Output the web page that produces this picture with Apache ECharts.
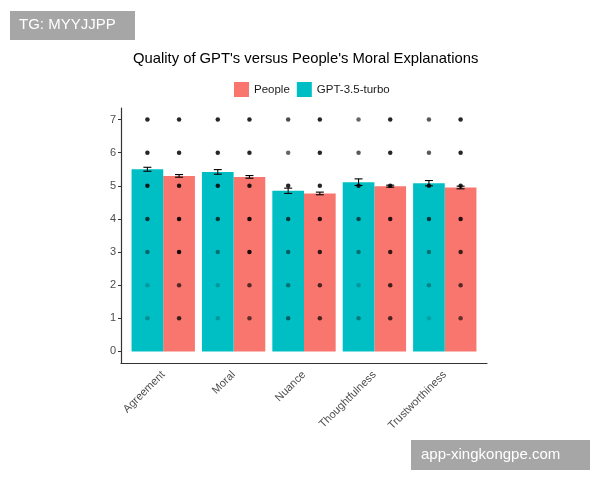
<!DOCTYPE html>
<html>
<head>
<meta charset="utf-8">
<script src="https://cdn.jsdelivr.net/npm/echarts@6/dist/echarts.min.js"></script>
<style>
  html, body { margin: 0; padding: 0; background: #fff; }
  #main { width: 600px; height: 480px; }
</style>
</head>
<body>
<div id="main"></div>
<script>
var categories = ['Agreement', 'Moral', 'Nuance', 'Thoughtfulness', 'Trustworthiness'];
var gptMean = [5.50, 5.42, 4.85, 5.11, 5.08];
var gptErr = [0.06, 0.07, 0.08, 0.10, 0.08];
var peopleMean = [5.30, 5.27, 4.77, 4.99, 4.95];
var peopleErr = [0.04, 0.04, 0.04, 0.03, 0.04];
var ratingLevels = [1, 2, 3, 4, 5, 6, 7];
// darkness of the rating dots (how many answers pile up there), levels 1..7
var gptDotAlpha = [
  [0.25, 0.2, 0.45, 0.7, 0.85, 0.85, 0.85],
  [0.2, 0.2, 0.4, 0.7, 0.85, 0.85, 0.85],
  [0.5, 0.4, 0.5, 0.7, 0.85, 0.6, 0.7],
  [0.35, 0.2, 0.4, 0.6, 0.85, 0.65, 0.6],
  [0.15, 0.3, 0.4, 0.7, 0.85, 0.65, 0.65]
];
var peopleDotAlpha = [
  [0.75, 0.65, 0.9, 0.9, 0.85, 0.85, 0.85],
  [0.6, 0.65, 0.9, 0.9, 0.85, 0.85, 0.85],
  [0.7, 0.7, 0.8, 0.85, 0.85, 0.85, 0.85],
  [0.7, 0.75, 0.8, 0.85, 0.85, 0.85, 0.85],
  [0.6, 0.65, 0.75, 0.85, 0.85, 0.85, 0.85]
];
var yTicks = [0, 1, 2, 3, 4, 5, 6, 7];

var GPT_COLOR = '#00BFC4';
var PEOPLE_COLOR = '#F8766D';
var dodge = 0.225;
var halfBar = 0.225;

var chart = echarts.init(document.getElementById('main'));

function barData(means, off) {
  return means.map(function (m, i) { return [i + off, m]; });
}
function errData(means, errs, off) {
  return means.map(function (m, i) { return [i + off, m - errs[i], m + errs[i]]; });
}
function dotData(alphas, off) {
  var out = [];
  alphas.forEach(function (row, i) {
    ratingLevels.forEach(function (lv, k) {
      out.push({ value: [i + off, lv], itemStyle: { opacity: row[k] } });
    });
  });
  return out;
}

function renderBar(color) {
  return function (params, api) {
    var x = api.value(0), y = api.value(1);
    var p1 = api.coord([x - halfBar, y]);
    var p2 = api.coord([x + halfBar, 0]);
    return {
      type: 'rect',
      shape: { x: p1[0], y: p1[1], width: p2[0] - p1[0], height: p2[1] - p1[1] },
      style: { fill: color }
    };
  };
}

function renderErr(params, api) {
  var x = api.value(0);
  var lo = api.coord([x, api.value(1)]);
  var hi = api.coord([x, api.value(2)]);
  var w = 4;
  var st = { stroke: '#000', lineWidth: 1.1 };
  return {
    type: 'group',
    children: [
      { type: 'line', shape: { x1: lo[0], y1: lo[1], x2: hi[0], y2: hi[1] }, style: st },
      { type: 'line', shape: { x1: lo[0] - w, y1: lo[1], x2: lo[0] + w, y2: lo[1] }, style: st },
      { type: 'line', shape: { x1: hi[0] - w, y1: hi[1], x2: hi[0] + w, y2: hi[1] }, style: st }
    ]
  };
}

var option = {
  backgroundColor: '#ffffff',
  animation: false,
  textStyle: { fontFamily: 'Liberation Sans, Arial, sans-serif' },
  title: {
    text: "Quality of GPT's versus People's Moral Explanations",
    left: 133,
    top: 51,
    padding: 0,
    textStyle: { fontSize: 14.8, fontWeight: 'normal', color: '#000' }
  },
  legend: {
    data: ['People', 'GPT-3.5-turbo'],
    left: 234,
    top: 82,
    padding: 0,
    icon: 'rect',
    itemWidth: 15,
    itemHeight: 15,
    itemGap: 7,
    textStyle: { fontSize: 11.5, color: '#1a1a1a' }
  },
  grid: { left: 121, right: 113, top: 108, bottom: 117 },
  xAxis: {
    type: 'value',
    min: -0.6,
    max: 4.6,
    splitLine: { show: false },
    axisLine: { show: true, onZero: false, lineStyle: { color: '#333', width: 1.2 } },
    axisTick: { show: false },
    axisLabel: {
      customValues: [0, 1, 2, 3, 4],
      rotate: 45,
      fontSize: 11,
      color: '#4d4d4d',
      margin: 10,
      formatter: function (v) { return categories[Math.round(v)]; }
    }
  },
  yAxis: {
    type: 'value',
    min: -0.35,
    max: 7.35,
    splitLine: { show: false },
    axisLine: { show: true, onZero: false, lineStyle: { color: '#333', width: 1.2 } },
    axisTick: { show: true, customValues: yTicks, length: 3, lineStyle: { color: '#333' } },
    axisLabel: { customValues: yTicks, fontSize: 11, color: '#4d4d4d', margin: 5 }
  },
  series: [
    {
      name: 'People', type: 'custom', z: 2,
      itemStyle: { color: PEOPLE_COLOR },
      renderItem: renderBar(PEOPLE_COLOR),
      data: barData(peopleMean, dodge)
    },
    {
      name: 'GPT-3.5-turbo', type: 'custom', z: 2,
      itemStyle: { color: GPT_COLOR },
      renderItem: renderBar(GPT_COLOR),
      data: barData(gptMean, -dodge)
    },
    {
      name: 'gptDots', type: 'scatter', z: 3, symbolSize: 4.5,
      itemStyle: { color: '#000' },
      data: dotData(gptDotAlpha, -dodge)
    },
    {
      name: 'peopleDots', type: 'scatter', z: 3, symbolSize: 4.5,
      itemStyle: { color: '#000' },
      data: dotData(peopleDotAlpha, dodge)
    },
    {
      name: 'gptErr', type: 'custom', z: 4,
      renderItem: renderErr,
      data: errData(gptMean, gptErr, -dodge)
    },
    {
      name: 'peopleErr', type: 'custom', z: 4,
      renderItem: renderErr,
      data: errData(peopleMean, peopleErr, dodge)
    }
  ],
  graphic: [
    { type: 'rect', left: 10, top: 11, shape: { width: 125, height: 29 }, style: { fill: '#a6a6a6' } },
    { type: 'text', left: 19, top: 17, style: { text: 'TG: MYYJJPP', fill: '#fff', fontSize: 15, fontFamily: 'Liberation Sans, Arial, sans-serif' } },
    { type: 'rect', left: 411, top: 440, shape: { width: 179, height: 30 }, style: { fill: '#a6a6a6' } },
    { type: 'text', left: 421, top: 447, style: { text: 'app-xingkongpe.com', fill: '#fff', fontSize: 15, fontFamily: 'Liberation Sans, Arial, sans-serif' } }
  ]
};

chart.setOption(option);
</script>
</body>
</html>
